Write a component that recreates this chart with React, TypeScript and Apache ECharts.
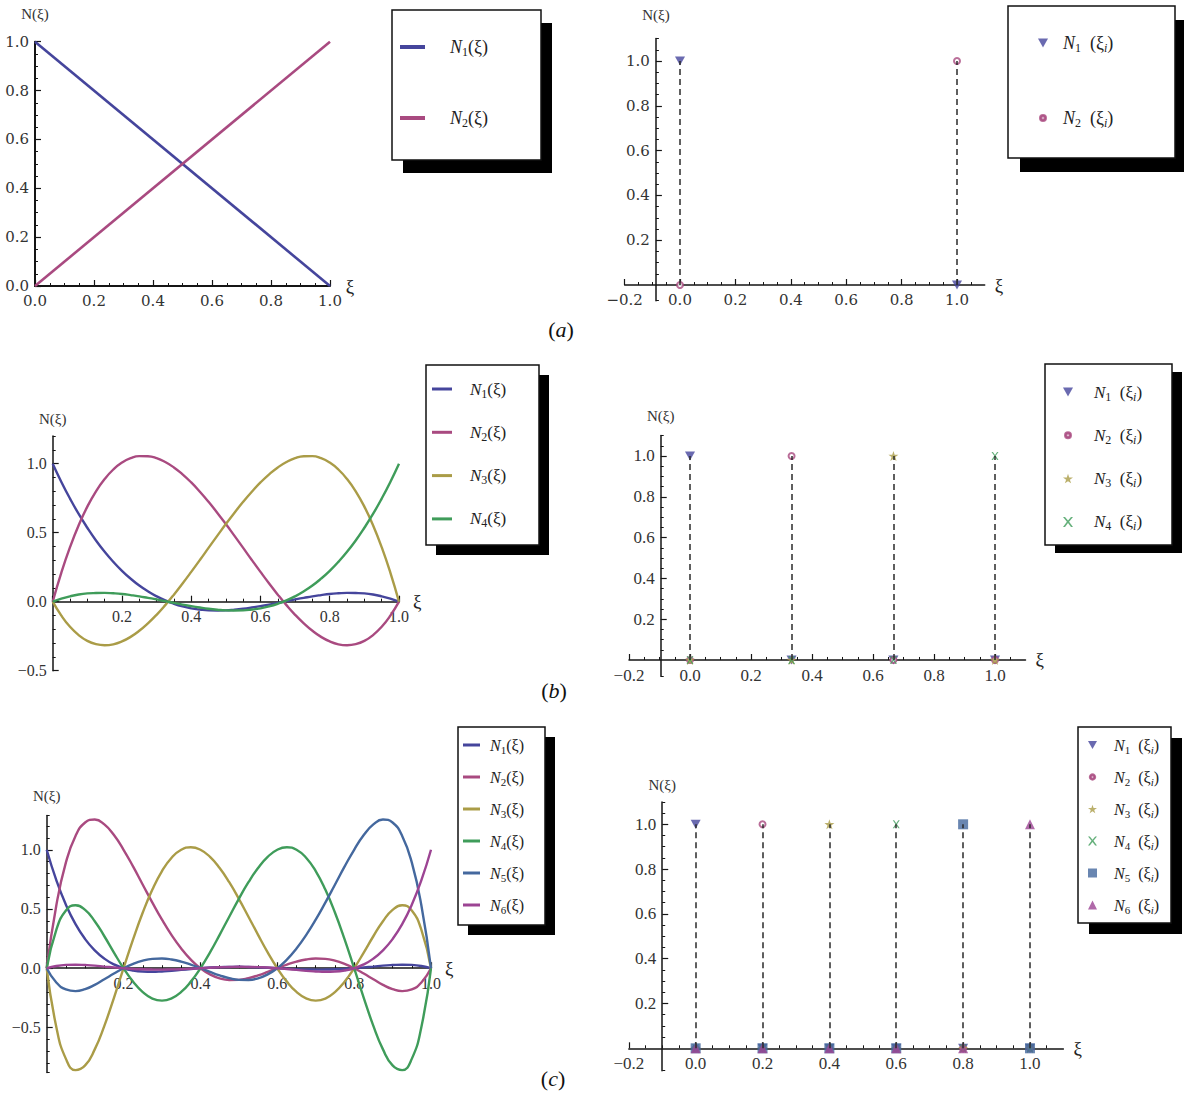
import { useEffect, useRef } from 'react';
import * as echarts from 'echarts';

const SERIF = "'Liberation Serif', 'Times New Roman', serif";
const WIDE_SERIF = "'DejaVu Serif', 'Liberation Serif', serif";

// Mathematica-style default plot colours for N1..N6
const COLORS = ['#45459c', '#a94a80', '#aa9c47', '#3f9c5a', '#44689e', '#9c4493'];

// ---------- sample positions ----------
const XI_A = [0, 1];
const XI_B = [
  0, 0.025, 0.05, 0.075, 0.1, 0.125, 0.15, 0.175, 0.2, 0.225, 0.25, 0.275, 0.3, 0.325, 0.35, 0.375, 0.4, 0.425, 0.45, 0.475,
  0.5, 0.525, 0.55, 0.575, 0.6, 0.625, 0.65, 0.675, 0.7, 0.725, 0.75, 0.775, 0.8, 0.825, 0.85, 0.875, 0.9, 0.925, 0.95, 0.975, 1,
];
const XI_C = [
  0, 0.025, 0.05, 0.075, 0.1, 0.125, 0.15, 0.175, 0.2, 0.225, 0.25, 0.275, 0.3, 0.325, 0.35, 0.375, 0.4, 0.425, 0.45, 0.475,
  0.5, 0.525, 0.55, 0.575, 0.6, 0.625, 0.65, 0.675, 0.7, 0.725, 0.75, 0.775, 0.8, 0.825, 0.85, 0.875, 0.9, 0.925, 0.95, 0.975, 1,
];

// ---------- (a) linear shape functions ----------
const A_N1 = [1, 0];
const A_N2 = [0, 1];

// ---------- (b) cubic shape functions ----------
const B_N1 = [
  1, 0.868, 0.747, 0.636, 0.536, 0.444, 0.362, 0.289, 0.224, 0.167, 0.117, 0.075, 0.039, 0.009, -0.015, -0.034, -0.048, -0.057, -0.063, -0.064,
  -0.063, -0.058, -0.051, -0.042, -0.032, -0.021, -0.008, 0.004, 0.017, 0.028, 0.039, 0.048, 0.056, 0.061, 0.064, 0.063, 0.06, 0.052, 0.039, 0.022, 0,
];
const B_N2 = [
  0, 0.211, 0.395, 0.554, 0.689, 0.8, 0.889, 0.958, 1.008, 1.04, 1.055, 1.054, 1.04, 1.012, 0.973, 0.923, 0.864, 0.797, 0.724, 0.645,
  0.563, 0.477, 0.39, 0.302, 0.216, 0.132, 0.051, -0.025, -0.095, -0.157, -0.211, -0.255, -0.288, -0.309, -0.316, -0.308, -0.284, -0.242, -0.182, -0.101, 0,
];
const B_N3 = [
  0, -0.101, -0.182, -0.242, -0.284, -0.308, -0.316, -0.309, -0.288, -0.255, -0.211, -0.157, -0.095, -0.025, 0.051, 0.132, 0.216, 0.302, 0.39, 0.477,
  0.563, 0.645, 0.724, 0.797, 0.864, 0.923, 0.973, 1.012, 1.04, 1.054, 1.055, 1.04, 1.008, 0.958, 0.889, 0.8, 0.689, 0.554, 0.395, 0.211, 0,
];
const B_N4 = [
  0, 0.022, 0.039, 0.052, 0.06, 0.063, 0.064, 0.061, 0.056, 0.048, 0.039, 0.028, 0.017, 0.004, -0.008, -0.021, -0.032, -0.042, -0.051, -0.058,
  -0.063, -0.064, -0.063, -0.057, -0.048, -0.034, -0.015, 0.009, 0.039, 0.075, 0.117, 0.167, 0.224, 0.289, 0.362, 0.444, 0.536, 0.636, 0.747, 0.868, 1,
];

// ---------- (c) quintic shape functions ----------
const C_N1 = [
  1, 0.743, 0.536, 0.372, 0.246, 0.151, 0.081, 0.032, 0, -0.019, -0.028, -0.03, -0.027, -0.022, -0.014, -0.007, 0, 0.006, 0.009, 0.011,
  0.012, 0.01, 0.008, 0.004, 0, -0.004, -0.008, -0.01, -0.012, -0.011, -0.009, -0.006, 0, 0.007, 0.014, 0.022, 0.027, 0.03, 0.028, 0.019, 0,
];
const C_N2 = [
  0, 0.53, 0.893, 1.117, 1.23, 1.256, 1.214, 1.124, 1, 0.857, 0.705, 0.554, 0.41, 0.28, 0.167, 0.073, 0, -0.052, -0.085, -0.099,
  -0.098, -0.084, -0.06, -0.031, 0, 0.03, 0.056, 0.074, 0.082, 0.079, 0.064, 0.037, 0, -0.045, -0.093, -0.14, -0.176, -0.193, -0.179, -0.12, 0,
];
const C_N3 = [
  0, -0.495, -0.765, -0.86, -0.82, -0.685, -0.486, -0.25, 0, 0.245, 0.47, 0.664, 0.82, 0.933, 1, 1.021, 1, 0.94, 0.846, 0.726,
  0.586, 0.435, 0.282, 0.134, 0, -0.113, -0.2, -0.254, -0.273, -0.256, -0.201, -0.114, 0, 0.132, 0.27, 0.397, 0.492, 0.532, 0.487, 0.323, 0,
];
const C_N4 = [
  0, 0.323, 0.487, 0.532, 0.492, 0.397, 0.27, 0.132, 0, -0.114, -0.201, -0.256, -0.273, -0.254, -0.2, -0.113, 0, 0.134, 0.282, 0.435,
  0.586, 0.726, 0.846, 0.94, 1, 1.021, 1, 0.933, 0.82, 0.664, 0.47, 0.245, 0, -0.25, -0.486, -0.685, -0.82, -0.86, -0.765, -0.495, 0,
];
const C_N5 = [
  0, -0.12, -0.179, -0.193, -0.176, -0.14, -0.093, -0.045, 0, 0.037, 0.064, 0.079, 0.082, 0.074, 0.056, 0.03, 0, -0.031, -0.06, -0.084,
  -0.098, -0.099, -0.085, -0.052, 0, 0.073, 0.167, 0.28, 0.41, 0.554, 0.705, 0.857, 1, 1.124, 1.214, 1.256, 1.23, 1.117, 0.893, 0.53, 0,
];
const C_N6 = [
  0, 0.019, 0.028, 0.03, 0.027, 0.022, 0.014, 0.007, 0, -0.006, -0.009, -0.011, -0.012, -0.01, -0.008, -0.004, 0, 0.004, 0.008, 0.01,
  0.012, 0.011, 0.009, 0.006, 0, -0.007, -0.014, -0.022, -0.027, -0.03, -0.028, -0.019, 0, 0.032, 0.081, 0.151, 0.246, 0.372, 0.536, 0.743, 1,
];

// ---------- nodal values N_k(ξ_i) ----------
const NODES_A = [0, 1];
const NODAL_A = [[1, 0], [0, 1]];
const NODES_B = [0, 0.333, 0.667, 1];
const NODAL_B = [[1, 0, 0, 0], [0, 1, 0, 0], [0, 0, 1, 0], [0, 0, 0, 1]];
const NODES_C = [0, 0.2, 0.4, 0.6, 0.8, 1];
const NODAL_C = [
  [1, 0, 0, 0, 0, 0],
  [0, 1, 0, 0, 0, 0],
  [0, 0, 1, 0, 0, 0],
  [0, 0, 0, 1, 0, 0],
  [0, 0, 0, 0, 1, 0],
  [0, 0, 0, 0, 0, 1],
];

// ---------- ticks ----------
const X_TICKS = [0, 0.2, 0.4, 0.6, 0.8, 1];
const X_TICKS_NO0 = [0.2, 0.4, 0.6, 0.8, 1];
const X_MINOR = [0.05, 0.1, 0.15, 0.25, 0.3, 0.35, 0.45, 0.5, 0.55, 0.65, 0.7, 0.75, 0.85, 0.9, 0.95];
const XR_TICKS = [-0.2, 0, 0.2, 0.4, 0.6, 0.8, 1];
const XR_MINOR = [-0.15, -0.1, -0.05, 0.05, 0.1, 0.15, 0.25, 0.3, 0.35, 0.45, 0.5, 0.55, 0.65, 0.7, 0.75, 0.85, 0.9, 0.95, 1.05];
const YA_TICKS = [0, 0.2, 0.4, 0.6, 0.8, 1];
const YA_MINOR = [0.05, 0.1, 0.15, 0.25, 0.3, 0.35, 0.45, 0.5, 0.55, 0.65, 0.7, 0.75, 0.85, 0.9, 0.95];
const YB_TICKS = [-0.5, 0, 0.5, 1];
const YB_MINOR = [-0.4, -0.3, -0.2, -0.1, 0.1, 0.2, 0.3, 0.4, 0.6, 0.7, 0.8, 0.9, 1.1, 1.2];
const YC_TICKS = [-0.5, 0, 0.5, 1];
const YC_MINOR = [-0.88, -0.8, -0.7, -0.6, -0.4, -0.3, -0.2, -0.1, 0.1, 0.2, 0.3, 0.4, 0.6, 0.7, 0.8, 0.9, 1.1, 1.2, 1.29];
const YR_TICKS = [0.2, 0.4, 0.6, 0.8, 1];
const YR_MINOR = [0.05, 0.1, 0.15, 0.25, 0.3, 0.35, 0.45, 0.5, 0.55, 0.65, 0.7, 0.75, 0.85, 0.9, 0.95, 1.05, 1.1];

// ---------- marker shapes ----------
const SYM_DOWN = 'path://M0,0 L10,0 L5,9 Z';
const SYM_STAR = 'path://M5,0 L6.2,3.6 L10,3.6 L6.9,5.8 L8.1,9.5 L5,7.3 L1.9,9.5 L3.1,5.8 L0,3.6 L3.8,3.6 Z';
const SYM_CROSS = 'path://M0,0 L2,0 L5,3.6 L8,0 L10,0 L6.1,4.8 L10,10 L8,10 L5,6.1 L2,10 L0,10 L3.9,4.8 Z';
const SYM_RING =
  'path://M0,0 M10,10 M2,5 A3,3 0 1,1 8,5 A3,3 0 1,1 2,5 Z M3.3,5 A1.7,1.7 0 1,0 6.7,5 A1.7,1.7 0 1,0 3.3,5 Z';

const MARKERS: { symbol: string; size: number | number[]; icon: string; empty?: boolean }[] = [
  { symbol: SYM_DOWN, size: [10, 9], icon: SYM_DOWN },
  { symbol: 'emptyCircle', size: 6, icon: SYM_RING, empty: true },
  { symbol: SYM_STAR, size: 10, icon: SYM_STAR },
  { symbol: SYM_CROSS, size: [7, 8], icon: SYM_CROSS },
  { symbol: 'rect', size: 10, icon: 'rect' },
  { symbol: 'triangle', size: 10, icon: 'triangle' },
];

type Panel = {
  key: string;
  grid: { left: number; top: number; width: number; height: number };
  x: [number, number];
  y: [number, number];
  xMajor: number[];
  xMinor: number[];
  xLabels: number[];
  yMajor: number[];
  yMinor: number[];
  yLabels: number[];
  yAxisAt?: number;
  font: string;
  fontSize: number;
  yNameGap: number;
  axisWidth: number;
};

const PANELS: Panel[] = [
  {
    key: 'aL', grid: { left: 35, top: 41.7, width: 295, height: 244.3 }, x: [0, 1], y: [0, 1],
    xMajor: X_TICKS, xMinor: X_MINOR, xLabels: X_TICKS, yMajor: YA_TICKS, yMinor: YA_MINOR, yLabels: YA_TICKS,
    font: WIDE_SERIF, fontSize: 15, yNameGap: 20, axisWidth: 2,
  },
  {
    key: 'aR', grid: { left: 624.6, top: 38.6, width: 360.1, height: 262.1 }, x: [-0.2, 1.1], y: [-0.07, 1.1],
    xMajor: XR_TICKS, xMinor: XR_MINOR, xLabels: XR_TICKS, yMajor: YR_TICKS, yMinor: [-0.07, ...YR_MINOR], yLabels: YR_TICKS,
    yAxisAt: -0.087, font: WIDE_SERIF, fontSize: 15, yNameGap: 16, axisWidth: 1.5,
  },
  {
    key: 'bL', grid: { left: 52.7, top: 436.1, width: 346.3, height: 234.6 }, x: [0, 1], y: [-0.5, 1.2],
    xMajor: X_TICKS, xMinor: X_MINOR, xLabels: X_TICKS_NO0, yMajor: YB_TICKS, yMinor: YB_MINOR, yLabels: YB_TICKS,
    font: SERIF, fontSize: 16, yNameGap: 10, axisWidth: 1.5,
  },
  {
    key: 'bR', grid: { left: 629, top: 435.6, width: 396.5, height: 240.7 }, x: [-0.2, 1.1], y: [-0.08, 1.1],
    xMajor: XR_TICKS, xMinor: XR_MINOR, xLabels: XR_TICKS, yMajor: YR_TICKS, yMinor: [-0.08, ...YR_MINOR], yLabels: YR_TICKS,
    yAxisAt: -0.096, font: SERIF, fontSize: 17, yNameGap: 12, axisWidth: 1.5,
  },
  {
    key: 'cL', grid: { left: 46.7, top: 815.4, width: 384.3, height: 257.1 }, x: [0, 1], y: [-0.88, 1.29],
    xMajor: X_TICKS, xMinor: X_MINOR, xLabels: X_TICKS_NO0, yMajor: YC_TICKS, yMinor: YC_MINOR, yLabels: YC_TICKS,
    font: SERIF, fontSize: 16, yNameGap: 12, axisWidth: 1.5,
  },
  {
    key: 'cR', grid: { left: 628.8, top: 801.9, width: 434.6, height: 268.8 }, x: [-0.2, 1.1], y: [-0.1, 1.1],
    xMajor: XR_TICKS, xMinor: XR_MINOR, xLabels: XR_TICKS, yMajor: YR_TICKS, yMinor: [-0.1, ...YR_MINOR], yLabels: YR_TICKS,
    yAxisAt: -0.1, font: SERIF, fontSize: 17, yNameGap: 9, axisWidth: 1.5,
  },
];

// curves per left panel, nodal tables per right panel
const CURVES: { xs: number[]; ys: number[][]; smooth: boolean }[] = [
  { xs: XI_A, ys: [A_N1, A_N2], smooth: false },
  { xs: XI_B, ys: [B_N1, B_N2, B_N3, B_N4], smooth: true },
  { xs: XI_C, ys: [C_N1, C_N2, C_N3, C_N4, C_N5, C_N6], smooth: true },
];
const STEMS: { nodes: number[]; vals: number[][] }[] = [
  { nodes: NODES_A, vals: NODAL_A },
  { nodes: NODES_B, vals: NODAL_B },
  { nodes: NODES_C, vals: NODAL_C },
];

// legend placement: box, shadow offset, first-row centre, row spacing, icon size, font size, text indent
const LEGENDS = [
  { panel: 0, box: [392, 10, 149, 150], sh: [11, 13], left: 400, row0: 47, step: 71, iw: 25, ih: 4, fs: 18, indent: 20 },
  { panel: 1, box: [1008, 6, 167, 152], sh: [12, 14], left: 1037, row0: 43, step: 75, iw: 10, ih: 10, fs: 18, indent: 10 },
  { panel: 2, box: [426, 365, 113, 180], sh: [10, 10], left: 432, row0: 389, step: 43.3, iw: 20, ih: 3, fs: 17, indent: 13 },
  { panel: 3, box: [1045, 364, 127, 181], sh: [10, 8], left: 1062, row0: 392, step: 43.3, iw: 10, ih: 10, fs: 17, indent: 16 },
  { panel: 4, box: [458, 727, 87, 198], sh: [10, 10], left: 463, row0: 745, step: 32, iw: 17, ih: 3, fs: 16, indent: 5 },
  { panel: 5, box: [1078, 727, 93, 196], sh: [11, 11], left: 1087, row0: 745, step: 32, iw: 9, ih: 9, fs: 16, indent: 12 },
];

const PANEL_TAGS = [
  { tag: 'a', x: 561, y: 329 },
  { tag: 'b', x: 554, y: 690 },
  { tag: 'c', x: 553, y: 1078 },
];

const fmtTick = (v: number) => (Math.abs(v) < 1e-9 ? '0.0' : v.toFixed(1)).replace('-', '\u2212');

function buildOption() {
  const grids: any[] = [];
  const xAxes: any[] = [];
  const yAxes: any[] = [];
  const series: any[] = [];
  const ink = '#151515';

  PANELS.forEach((p, gi) => {
    grids.push({ ...p.grid, containLabel: false });
    const labelStyle = { fontFamily: p.font, fontSize: p.fontSize, color: '#333' };
    // horizontal axis sits on N = 0; vertical axis sits on ξ = yAxisAt (or the left edge)
    const xOffset = -((0 - p.y[0]) / (p.y[1] - p.y[0])) * p.grid.height;
    const yOffset = p.yAxisAt !== undefined ? -((p.yAxisAt - p.x[0]) / (p.x[1] - p.x[0])) * p.grid.width : 0;
    xAxes.push({
      type: 'value', gridIndex: gi, min: p.x[0], max: p.x[1], position: 'bottom', offset: xOffset,
      axisLine: { show: true, onZero: false, lineStyle: { color: ink, width: p.axisWidth } },
      axisTick: { show: true, inside: true, length: 6, customValues: p.xMajor, lineStyle: { color: ink, width: 1.2 } },
      axisLabel: { show: true, customValues: p.xLabels, formatter: fmtTick, margin: 7, ...labelStyle },
      splitLine: { show: false },
      name: 'ξ', nameLocation: 'end', nameGap: 10,
      nameTextStyle: { fontFamily: SERIF, fontSize: 19, color: '#222' },
    });
    xAxes.push({
      type: 'value', gridIndex: gi, min: p.x[0], max: p.x[1], position: 'bottom', offset: xOffset,
      axisLine: { show: false, onZero: false },
      axisTick: { show: true, inside: true, length: 3, customValues: p.xMinor, lineStyle: { color: ink, width: 1 } },
      axisLabel: { show: false }, splitLine: { show: false },
    });
    yAxes.push({
      type: 'value', gridIndex: gi, min: p.y[0], max: p.y[1], position: 'left', offset: yOffset,
      axisLine: { show: true, onZero: false, lineStyle: { color: ink, width: p.axisWidth } },
      axisTick: { show: true, inside: true, length: 6, customValues: p.yMajor, lineStyle: { color: ink, width: 1.2 } },
      axisLabel: { show: true, customValues: p.yLabels, formatter: fmtTick, margin: 6, ...labelStyle },
      splitLine: { show: false },
      name: 'N(ξ)', nameLocation: 'end', nameGap: p.yNameGap,
      nameTextStyle: { fontFamily: SERIF, fontSize: 15, color: '#333' },
    });
    yAxes.push({
      type: 'value', gridIndex: gi, min: p.y[0], max: p.y[1], position: 'left', offset: yOffset,
      axisLine: { show: false, onZero: false },
      axisTick: { show: true, inside: true, length: 3, customValues: p.yMinor, lineStyle: { color: ink, width: 1 } },
      axisLabel: { show: false }, splitLine: { show: false },
    });
  });

  // shape function curves
  CURVES.forEach((c, row) => {
    const gi = row * 2;
    c.ys.forEach((ys, k) => {
      series.push({
        type: 'line', name: `${PANELS[gi].key}${k + 1}`, xAxisIndex: gi * 2, yAxisIndex: gi * 2,
        data: c.xs.map((x, i) => [x, ys[i]]),
        smooth: c.smooth, showSymbol: false, symbol: 'none',
        color: COLORS[k], itemStyle: { color: COLORS[k] },
        lineStyle: { color: COLORS[k], width: row === 0 ? 2.6 : 2.4 }, z: 3,
      });
    });
  });

  // nodal values with dashed drop lines
  STEMS.forEach((s, row) => {
    const gi = row * 2 + 1;
    s.vals.forEach((vals, k) => {
      const m = MARKERS[k];
      series.push({
        type: 'scatter', name: `${PANELS[gi].key}${k + 1}`, xAxisIndex: gi * 2, yAxisIndex: gi * 2,
        data: s.nodes.map((x, j) => [x, vals[j]]),
        symbol: m.symbol, symbolSize: m.size,
        color: COLORS[k],
        itemStyle: m.empty ? { color: COLORS[k], borderColor: COLORS[k], borderWidth: 1.2 } : { color: COLORS[k] },
        z: 4,
        markLine: {
          silent: true, symbol: ['none', 'none'], label: { show: false }, animation: false,
          lineStyle: { color: '#2a2a2a', width: 1.5, type: [6, 4] },
          emphasis: { disabled: true },
          data: s.nodes
            .map((x, j) => (vals[j] !== 0 ? [{ coord: [x, 0] }, { coord: [x, vals[j]] }] : null))
            .filter(Boolean),
        },
      });
    });
  });

  const legends = LEGENDS.map((L) => {
    const p = PANELS[L.panel];
    const isStem = L.panel % 2 === 1;
    const count = [2, 2, 4, 4, 6, 6][L.panel];
    const names = Array.from({ length: count }, (_, k) => `${p.key}${k + 1}`);
    const subSize = Math.round(L.fs * 0.68);
    const drop = Math.round(L.fs * 0.55);
    const H = L.fs + 4;
    return {
      orient: 'vertical', left: L.left, top: L.row0 - H / 2, padding: 0, itemGap: L.step - H,
      itemWidth: L.iw, itemHeight: L.ih, selectedMode: false, z: 10,
      icon: isStem ? undefined : 'rect',
      data: names.map((n, k) => (isStem ? { name: n, icon: MARKERS[k].icon } : { name: n })),
      formatter: (name: string) => {
        const k = name.slice(2);
        return isStem ? `{n|N}{s|${k}}{t|\u2002(ξ}{i|i}{t|)}` : `{n|N}{s|${k}}{t|(ξ)}`;
      },
      textStyle: {
        color: '#222',
        rich: {
          n: { fontFamily: SERIF, fontStyle: 'italic', fontSize: L.fs, color: '#222', lineHeight: H, padding: [0, 0, 0, L.indent] },
          s: { fontFamily: SERIF, fontSize: subSize, color: '#222', lineHeight: H - drop, padding: [drop, 0, 0, 0] },
          t: { fontFamily: SERIF, fontSize: L.fs, color: '#222', lineHeight: H },
          i: { fontFamily: SERIF, fontStyle: 'italic', fontSize: subSize, color: '#222', lineHeight: H - drop, padding: [drop, 0, 0, 0] },
        },
      },
    };
  });

  const graphics: any[] = [];
  LEGENDS.forEach((L) => {
    const [bx, by, bw, bh] = L.box;
    graphics.push({
      type: 'rect', z: 0, silent: true,
      shape: { x: bx + L.sh[0], y: by + L.sh[1], width: bw, height: bh },
      style: { fill: '#000' },
    });
    graphics.push({
      type: 'rect', z: 1, silent: true,
      shape: { x: bx, y: by, width: bw, height: bh },
      style: { fill: '#fff', stroke: '#111', lineWidth: 1.5 },
    });
  });
  PANEL_TAGS.forEach((t) => {
    graphics.push({
      type: 'text', z: 1, silent: true, x: t.x, y: t.y,
      style: {
        text: `{p|(}{l|${t.tag}}{p|)}`,
        align: 'center', verticalAlign: 'middle',
        rich: {
          p: { fontFamily: SERIF, fontSize: 22, fill: '#111' },
          l: { fontFamily: SERIF, fontSize: 22, fontStyle: 'italic', fill: '#111' },
        },
      },
    });
  });

  return {
    animation: false,
    backgroundColor: '#ffffff',
    grid: grids,
    xAxis: xAxes,
    yAxis: yAxes,
    legend: legends,
    graphic: { elements: graphics },
    series,
  };
}

export default function App() {
  const ref = useRef<HTMLDivElement>(null);
  useEffect(() => {
    document.body.style.margin = '0';
    if (!ref.current) return;
    const chart = echarts.init(ref.current, undefined, { renderer: 'svg' });
    chart.setOption(buildOption() as any);
    return () => chart.dispose();
  }, []);
  return <div ref={ref} style={{ width: 1184, height: 1095, background: '#fff' }} />;
}
